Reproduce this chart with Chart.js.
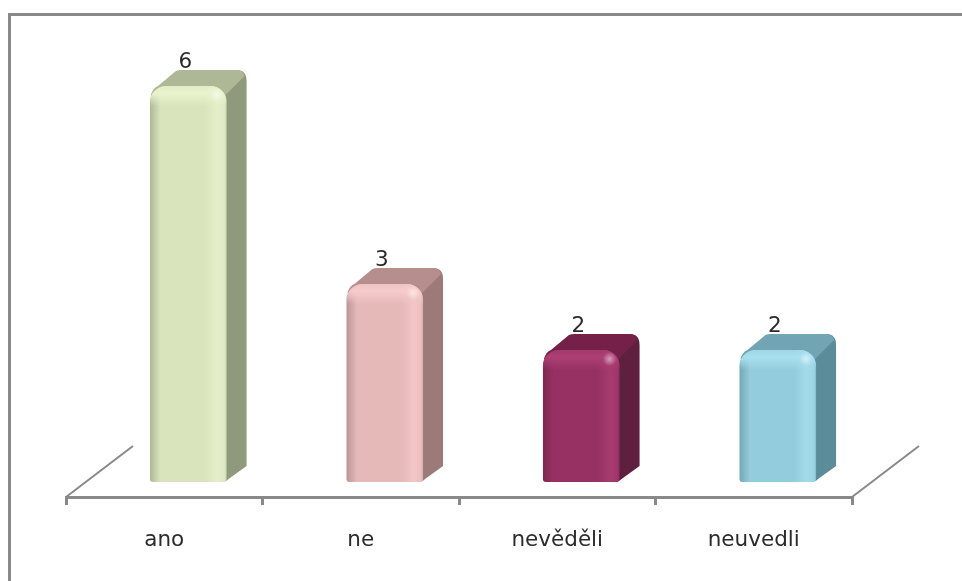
<!DOCTYPE html>
<html>
<head>
<meta charset="utf-8">
<title>Graf</title>
<script src="https://cdn.jsdelivr.net/npm/chart.js@4"></script>
<style>
    html, body { margin: 0; padding: 0; background: #fff; overflow: hidden; }
    #frame { position: absolute; left: 8px; top: 13px; right: 0; bottom: 0; border-left: 3px solid #898989; border-top: 3px solid #898989; }
    #chart { position: absolute; left: 0; top: 0; }
</style>
</head>
<body>
<div id="frame"></div>
<canvas id="chart" width="962" height="581"></canvas>
<script>
// Data
const categories = ['ano', 'ne', 'nevěděli', 'neuvedli'];
const answers = [6, 3, 2, 2];

// Colours per bar
const frontColors = ['#d9e4bc', '#e6b9b9', '#973163', '#93cddd'];
const sideColors = ['#8f9a7c', '#9c7a7a', '#5f1f3f', '#5b8c99'];
const topColors = ['#aeb896', '#b68e8e', '#752048', '#72a5b3'];
const lightColors = ['#e9f3cd', '#f6cbcb', '#ad3f75', '#a9e0ef'];

const axisColor = '#898989';
const textColor = '#2b2b2b';
const labelFont = '21.5px "DejaVu Sans"';

// Fake 3D depth of the bars and the floor
const depthX = 20;
const depthY = 16;
const floorX = 67;
const floorY = 51;
const barShift = 24;
const cornerRadius = 16;

function drawSideFaces(ctx, bar, i) {
    const left = bar.x - bar.width / 2;
    const right = bar.x + bar.width / 2;
    const top = bar.y;
    const base = bar.base;

    // right side
    ctx.fillStyle = sideColors[i];
    ctx.beginPath();
    ctx.moveTo(right - 10, top + 4);
    ctx.lineTo(right + depthX - 10, top - depthY);
    ctx.quadraticCurveTo(right + depthX, top - depthY, right + depthX, top - depthY + 11);
    ctx.lineTo(right + depthX, base - depthY);
    ctx.lineTo(right + 2, base - 3);
    ctx.quadraticCurveTo(right, base, right - 8, base);
    ctx.closePath();
    ctx.fill();

    // top side
    ctx.fillStyle = topColors[i];
    ctx.beginPath();
    ctx.moveTo(left + 1, top + 9);
    ctx.quadraticCurveTo(left + 3, top + 2, left + 8, top);
    ctx.lineTo(left + depthX + 6, top - depthY + 1);
    ctx.quadraticCurveTo(left + depthX + 8, top - depthY, left + depthX + 12, top - depthY);
    ctx.lineTo(right + depthX - 10, top - depthY);
    ctx.quadraticCurveTo(right + depthX - 3, top - depthY, right + depthX - 2, top - depthY + 6);
    ctx.lineTo(right - 2, top + 10);
    ctx.closePath();
    ctx.fill();
}

function frontPath(ctx, bar) {
    const left = bar.x - bar.width / 2;
    ctx.beginPath();
    ctx.roundRect(left, bar.y, bar.width, bar.base - bar.y, [cornerRadius, cornerRadius, 3, 3]);
}

function drawBevel(ctx, bar, i) {
    const left = bar.x - bar.width / 2;
    const right = bar.x + bar.width / 2;
    const light = lightColors[i];
    ctx.save();
    frontPath(ctx, bar);
    ctx.clip();

    // darker left edge, light band on the right
    const shade = ctx.createLinearGradient(left, 0, right, 0);
    shade.addColorStop(0, 'rgba(0,0,0,0.2)');
    shade.addColorStop(0.05, 'rgba(0,0,0,0.12)');
    shade.addColorStop(0.14, 'rgba(0,0,0,0)');
    shade.addColorStop(0.97, 'rgba(0,0,0,0)');
    shade.addColorStop(1, 'rgba(0,0,0,0.1)');
    ctx.fillStyle = shade;
    ctx.fillRect(left, bar.y, bar.width, bar.base - bar.y);

    const band = ctx.createLinearGradient(left, 0, right, 0);
    band.addColorStop(0.72, light + '00');
    band.addColorStop(0.88, light + 'bb');
    band.addColorStop(0.98, light + '55');
    band.addColorStop(1, light + '00');
    ctx.fillStyle = band;
    ctx.fillRect(left, bar.y, bar.width, bar.base - bar.y);

    // light band along the top
    const down = ctx.createLinearGradient(0, bar.y, 0, bar.y + 20);
    down.addColorStop(0, light + '88');
    down.addColorStop(0.35, light + 'ff');
    down.addColorStop(1, light + '00');
    ctx.fillStyle = down;
    ctx.fillRect(left, bar.y, bar.width, 20);

    // small shine in the corner
    const cx = right - 10;
    const cy = bar.y + 9;
    const shine = ctx.createRadialGradient(cx, cy, 0, cx, cy, 7);
    shine.addColorStop(0, 'rgba(255,255,255,0.5)');
    shine.addColorStop(1, 'rgba(255,255,255,0)');
    ctx.fillStyle = shine;
    ctx.fillRect(cx - 7, cy - 7, 14, 14);
    ctx.restore();
}

// Draws the depth faces around the real Chart.js bars
const bars3d = {
    id: 'bars3d',
    beforeDatasetDraw(chart, args) {
        const ctx = chart.ctx;
        ctx.save();
        ctx.translate(barShift, 0);
        args.meta.data.forEach((bar, i) => drawSideFaces(ctx, bar, i));
    },
    afterDatasetDraw(chart, args) {
        const ctx = chart.ctx;
        args.meta.data.forEach((bar, i) => drawBevel(ctx, bar, i));
        ctx.restore();
    },
    afterDatasetsDraw(chart) {
        const ctx = chart.ctx;
        ctx.save();
        ctx.fillStyle = textColor;
        ctx.font = labelFont;
        ctx.textAlign = 'center';
        ctx.textBaseline = 'alphabetic';
        chart.getDatasetMeta(0).data.forEach((bar, i) => {
            ctx.fillText(String(answers[i]), bar.x + barShift - 3, bar.y - 18);
        });
        ctx.restore();
    },
    // floor lines going back from both ends of the axis
    beforeDatasetsDraw(chart) {
        const ctx = chart.ctx;
        const area = chart.chartArea;
        ctx.save();
        ctx.strokeStyle = axisColor;
        ctx.lineWidth = 2;
        [area.left, area.right].forEach(x => {
            ctx.beginPath();
            ctx.moveTo(x, area.bottom);
            ctx.lineTo(x + floorX, area.bottom - floorY);
            ctx.stroke();
        });
        ctx.restore();
    }
};

new Chart(document.getElementById('chart'), {
    type: 'bar',
    data: {
        labels: categories,
        datasets: [{
            data: answers,
            backgroundColor: frontColors,
            borderRadius: { topLeft: cornerRadius, topRight: cornerRadius, bottomLeft: 3, bottomRight: 3 },
            borderSkipped: false,
            barPercentage: 0.39,
            categoryPercentage: 1
        }]
    },
    options: {
        responsive: false,
        animation: false,
        layout: { padding: { left: 66, right: 110, top: 53, bottom: 0 } },
        plugins: { legend: { display: false }, tooltip: { enabled: false } },
        scales: {
            x: {
                afterFit(scale) { scale.height = 84; },
                grid: { offset: true, drawOnChartArea: false, color: axisColor, lineWidth: 3, tickLength: 8 },
                border: { color: axisColor, width: 3 },
                ticks: { color: textColor, font: { family: 'DejaVu Sans', size: 21.5 }, padding: 23, maxRotation: 0, autoSkip: false }
            },
            y: {
                display: false,
                min: -15 / 66,   // the floor sits below the bars' zero line
                max: 6.5
            }
        }
    },
    plugins: [bars3d]
});
</script>
</body>
</html>
